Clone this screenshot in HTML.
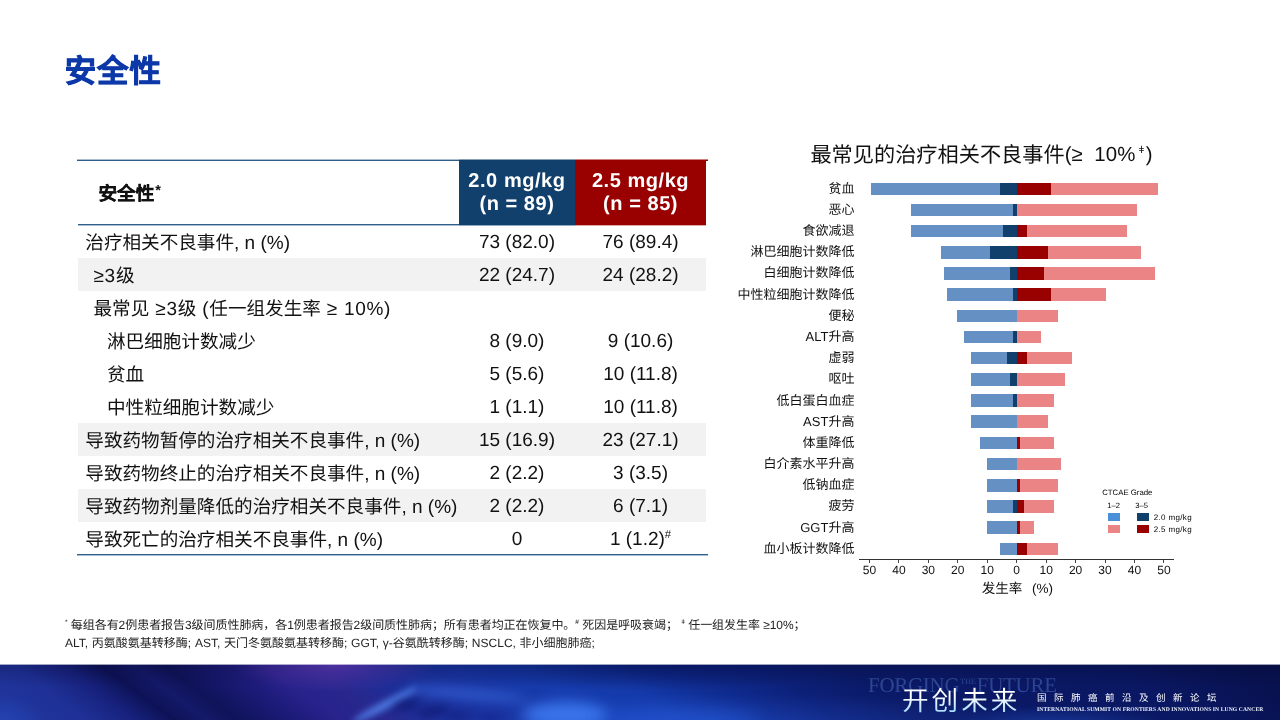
<!DOCTYPE html>
<html lang="zh-CN">
<head>
<meta charset="utf-8">
<title>安全性</title>
<style>
html,body{margin:0;padding:0}
body{width:1280px;height:720px;position:relative;overflow:hidden;background:#fff;font-family:"Liberation Sans",sans-serif;color:#111;text-rendering:geometricPrecision;opacity:.999}
.abs{position:absolute;white-space:nowrap}
h1{position:absolute;left:64.8px;top:50.4px;margin:0;letter-spacing:.9px;font-size:31.4px;line-height:44px;font-weight:bold;-webkit-text-stroke:.8px #0c38a8;color:#0c38a8;white-space:nowrap}

/* table */
table.t{position:absolute;left:78.3px;top:160px;width:628px;border-collapse:collapse;table-layout:fixed;font-size:18.6px;color:#111}
table.t td,table.t th{padding:0;height:33px;line-height:33px;white-space:nowrap;overflow:visible;font-weight:normal;border:0}
table.t col.c1{width:380.8px}
table.t col.c2{width:115.7px}
table.t col.c3{width:131.5px}
table.t thead th{height:65px;box-sizing:border-box}
table.t thead th.h1{text-align:left;padding-left:20.2px;font-weight:bold;padding-top:1.5px;-webkit-text-stroke:.3px #111}
table.t thead th.h2,table.t thead th.h3{color:#fff;font-weight:bold;font-size:20px;letter-spacing:.55px;line-height:22.8px;padding-top:1px}
table.t thead th.h2{background:#12406c}
table.t thead th.h3{background:#990000}
table.t tbody td{text-align:center;font-size:19px;height:31px;line-height:31px;padding-top:2px}
table.t tbody td:first-child{text-align:left;padding-left:7px;font-size:18.6px}
table.t tbody tr.g td{background:#f2f2f2}
table.t tbody td.i1{padding-left:15.2px}
table.t tbody td.i2{padding-left:28.7px}
.l{font-size:19px;line-height:1}
.l2{font-size:19px;line-height:1;letter-spacing:.7px}
.ln{position:absolute;height:2px}
sup{font-size:60%;line-height:0;vertical-align:super}
table.t thead th.h1 sup{font-size:78%;margin-left:1px;vertical-align:4.8px;-webkit-text-stroke:0}

/* chart */
.ct{left:810.4px;top:142.2px;font-size:21.2px;line-height:28px;color:#111}
.ct .l3{word-spacing:5.5px;font-size:20.4px;position:relative;top:-1.5px;letter-spacing:.15px}
.ct sup{font-size:50%;margin:0 1px 0 3px}
.lab{position:absolute;right:425.6px;width:200px;text-align:right;font-size:13px;line-height:16px;white-space:nowrap;color:#111}
.bar{position:absolute;height:12.5px}
.lb{background:#6590c3}.db{background:#12406c}.dr{background:#990000}.lr{background:#eb8585}
.axis{position:absolute;left:859px;top:559px;width:315px;height:1px;background:#333}
.tm{position:absolute;top:560px;width:1px;height:3px;background:#444}
.tk{position:absolute;top:562.7px;width:30px;margin-left:-15px;text-align:center;font-size:12px;line-height:14px;color:#111}
.axt{left:967.3px;width:100px;text-align:center;top:579.4px;font-size:13.5px;line-height:20px;word-spacing:6px}
.lg{font-size:7.8px;line-height:12px;color:#000}
.sw{position:absolute;width:11.9px;height:7.8px}

/* footnotes */
.fn{left:65px;font-size:12px;line-height:16px;color:#222}
.fn sup{font-size:55%}

/* footer band */
.band{position:absolute;left:0;top:664px;width:1280px;height:56px;overflow:hidden;background:
 radial-gradient(ellipse 130px 36px at 335px 0px,rgba(86,50,168,.85),transparent 78%),
 radial-gradient(ellipse 150px 28px at 1060px 62px,rgba(36,84,200,.5),transparent 75%),
 radial-gradient(ellipse 260px 40px at 650px -4px,rgba(6,14,84,.7),transparent 80%),
 radial-gradient(ellipse 60px 40px at 0px 60px,rgba(44,96,215,.4),transparent 75%),
 radial-gradient(ellipse 460px 44px at 730px 64px,rgba(50,100,230,.3),transparent 80%),
 linear-gradient(to bottom,rgba(0,0,20,.2) 0,rgba(0,0,0,0) 40%),
 linear-gradient(216.7deg,#081250 22px,#0a1762 100px,#0b1a68 262px,#0c2078 309px,#0f2c90 357px,#143aaa 405px,#163cae 453px,#1734a2 489px,#1c2e98 548px,#27288e 578px,#28228c 608px,#1d1b7a 632px,#15176a 650px,#0f1359 668px,#141969 686px,#0d1257 706px,#17217c 728px,#1e3096 757px,#20349c 787px)}
.band i{position:absolute;display:block;border-radius:50%;filter:blur(4px)}
.b1{left:868px;top:669.5px;font-family:"Liberation Serif",serif;font-size:21px;line-height:24px;letter-spacing:-.3px;color:rgba(90,130,215,.42)}
.b1 small{font-size:8px;vertical-align:8px;letter-spacing:0;margin:0 1px}
.b2{left:902px;top:681.8px;font-family:"Liberation Serif",serif;font-size:26.6px;font-weight:300;line-height:38px;letter-spacing:3px;color:#e4f3ff;background:linear-gradient(#ffffff 38%,#a9dcff 78%);-webkit-background-clip:text;background-clip:text;-webkit-text-fill-color:transparent}
.b3{left:1037px;top:691px;font-size:9.5px;line-height:16px;letter-spacing:7.5px;color:#fff}
.b4{left:1037px;top:706px;font-family:"Liberation Serif",serif;font-size:5.6px;line-height:9px;font-weight:bold;color:#f0f4ff;letter-spacing:.1px}
</style>
</head>
<body>
<h1>安全性</h1>

<table class="t">
<colgroup><col class="c1"><col class="c2"><col class="c3"></colgroup>
<thead>
<tr><th class="h1">安全性<sup>*</sup></th><th class="h2">2.0 mg/kg<br>(n = 89)</th><th class="h3">2.5 mg/kg<br>(n = 85)</th></tr>
</thead>
<tbody>
<tr><td>治疗相关不良事件<span class="l">, n (%)</span></td><td>73 (82.0)</td><td>76 (89.4)</td></tr>
<tr class="g"><td class="i1"><span class="l2">≥3</span>级</td><td>22 (24.7)</td><td>24 (28.2)</td></tr>
<tr><td class="i1">最常见<span class="l2"> ≥3</span>级<span class="l2"> (</span>任一组发生率<span class="l2"> ≥ 10%)</span></td><td></td><td></td></tr>
<tr><td class="i2">淋巴细胞计数减少</td><td>8 (9.0)</td><td>9 (10.6)</td></tr>
<tr><td class="i2">贫血</td><td>5 (5.6)</td><td>10 (11.8)</td></tr>
<tr><td class="i2">中性粒细胞计数减少</td><td>1 (1.1)</td><td>10 (11.8)</td></tr>
<tr class="g"><td>导致药物暂停的治疗相关不良事件<span class="l">, n (%)</span></td><td>15 (16.9)</td><td>23 (27.1)</td></tr>
<tr><td>导致药物终止的治疗相关不良事件<span class="l">, n (%)</span></td><td>2 (2.2)</td><td>3 (3.5)</td></tr>
<tr class="g"><td>导致药物剂量降低的治疗相关不良事件<span class="l">, n (%)</span></td><td>2 (2.2)</td><td>6 (7.1)</td></tr>
<tr><td>导致死亡的治疗相关不良事件<span class="l">, n (%)</span></td><td>0</td><td>1 (1.2)<sup>#</sup></td></tr>
</tbody>
</table>
<div class="ln" style="left:77px;top:159px;width:382px;background:linear-gradient(#2f5f8a66 50%,#2f5f8a 50%)"></div>
<div class="ln" style="left:459px;top:159px;width:116px;height:1px;background:#12406c80"></div>
<div class="ln" style="left:575px;top:159px;width:132.6px;background:linear-gradient(#99000080 50%,#990000 50%)"></div>
<div class="ln" style="left:78px;top:224px;width:381px;background:linear-gradient(#2f5f8a 50%,#2f5f8a66 50%)"></div>
<div class="ln" style="left:459px;top:224px;width:116px;background:linear-gradient(#12406c 50%,#2f5f8a88 50%)"></div>
<div class="ln" style="left:575px;top:224px;width:131.3px;background:linear-gradient(#990000 50%,#99000055 50%)"></div>
<div class="ln" style="left:77px;top:554px;width:630.6px;background:linear-gradient(#2f5f8a 50%,#2f5f8a66 50%)"></div>

<div class="abs ct">最常见的治疗相关不良事件<span class="l3">(≥ 10%<sup>ǂ</sup>)</span></div>
<!--CHART-->
<div class="lab" style="top:180.75px">贫血</div>
<div class="bar lb" style="top:182.5px;left:871.25px;width:145.45px"></div>
<div class="bar lr" style="top:182.5px;left:1016.7px;width:141.55px"></div>
<div class="bar db" style="top:182.5px;left:1000px;width:16.7px"></div>
<div class="bar dr" style="top:182.5px;left:1016.7px;width:34.55px"></div>
<div class="lab" style="top:201.93px">恶心</div>
<div class="bar lb" style="top:203.68px;left:911px;width:105.7px"></div>
<div class="bar lr" style="top:203.68px;left:1016.7px;width:120.8px"></div>
<div class="bar db" style="top:203.68px;left:1013.25px;width:3.45px"></div>
<div class="lab" style="top:223.11px">食欲减退</div>
<div class="bar lb" style="top:224.86px;left:911px;width:105.7px"></div>
<div class="bar lr" style="top:224.86px;left:1016.7px;width:110.3px"></div>
<div class="bar db" style="top:224.86px;left:1003.25px;width:13.45px"></div>
<div class="bar dr" style="top:224.86px;left:1016.7px;width:10.3px"></div>
<div class="lab" style="top:244.29px">淋巴细胞计数降低</div>
<div class="bar lb" style="top:246.04px;left:940.75px;width:75.95px"></div>
<div class="bar lr" style="top:246.04px;left:1016.7px;width:124.55px"></div>
<div class="bar db" style="top:246.04px;left:990px;width:26.7px"></div>
<div class="bar dr" style="top:246.04px;left:1016.7px;width:31.3px"></div>
<div class="lab" style="top:265.47px">白细胞计数降低</div>
<div class="bar lb" style="top:267.22px;left:944px;width:72.7px"></div>
<div class="bar lr" style="top:267.22px;left:1016.7px;width:138.3px"></div>
<div class="bar db" style="top:267.22px;left:1010px;width:6.7px"></div>
<div class="bar dr" style="top:267.22px;left:1016.7px;width:27.8px"></div>
<div class="lab" style="top:286.65px">中性粒细胞计数降低</div>
<div class="bar lb" style="top:288.4px;left:947px;width:69.7px"></div>
<div class="bar lr" style="top:288.4px;left:1016.7px;width:89.8px"></div>
<div class="bar db" style="top:288.4px;left:1013.25px;width:3.45px"></div>
<div class="bar dr" style="top:288.4px;left:1016.7px;width:34.55px"></div>
<div class="lab" style="top:307.83px">便秘</div>
<div class="bar lb" style="top:309.58px;left:957px;width:59.7px"></div>
<div class="bar lr" style="top:309.58px;left:1016.7px;width:41.3px"></div>
<div class="lab" style="top:329.01px">ALT升高</div>
<div class="bar lb" style="top:330.76px;left:963.75px;width:52.95px"></div>
<div class="bar lr" style="top:330.76px;left:1016.7px;width:24.05px"></div>
<div class="bar db" style="top:330.76px;left:1013.25px;width:3.45px"></div>
<div class="lab" style="top:350.19px">虚弱</div>
<div class="bar lb" style="top:351.94px;left:970.5px;width:46.2px"></div>
<div class="bar lr" style="top:351.94px;left:1016.7px;width:55.3px"></div>
<div class="bar db" style="top:351.94px;left:1006.75px;width:9.95px"></div>
<div class="bar dr" style="top:351.94px;left:1016.7px;width:10.3px"></div>
<div class="lab" style="top:371.37px">呕吐</div>
<div class="bar lb" style="top:373.12px;left:970.5px;width:46.2px"></div>
<div class="bar lr" style="top:373.12px;left:1016.7px;width:48.3px"></div>
<div class="bar db" style="top:373.12px;left:1010px;width:6.7px"></div>
<div class="lab" style="top:392.55px">低白蛋白血症</div>
<div class="bar lb" style="top:394.3px;left:970.5px;width:46.2px"></div>
<div class="bar lr" style="top:394.3px;left:1016.7px;width:37.8px"></div>
<div class="bar db" style="top:394.3px;left:1013.25px;width:3.45px"></div>
<div class="lab" style="top:413.73px">AST升高</div>
<div class="bar lb" style="top:415.48px;left:970.5px;width:46.2px"></div>
<div class="bar lr" style="top:415.48px;left:1016.7px;width:31.05px"></div>
<div class="lab" style="top:434.91px">体重降低</div>
<div class="bar lb" style="top:436.66px;left:980.25px;width:36.45px"></div>
<div class="bar lr" style="top:436.66px;left:1016.7px;width:37.8px"></div>
<div class="bar dr" style="top:436.66px;left:1016.7px;width:3.3px"></div>
<div class="lab" style="top:456.09px">白介素水平升高</div>
<div class="bar lb" style="top:457.84px;left:987px;width:29.7px"></div>
<div class="bar lr" style="top:457.84px;left:1016.7px;width:44.55px"></div>
<div class="lab" style="top:477.27px">低钠血症</div>
<div class="bar lb" style="top:479.02px;left:987px;width:29.7px"></div>
<div class="bar lr" style="top:479.02px;left:1016.7px;width:41.3px"></div>
<div class="bar dr" style="top:479.02px;left:1016.7px;width:3.3px"></div>
<div class="lab" style="top:498.45px">疲劳</div>
<div class="bar lb" style="top:500.2px;left:987px;width:29.7px"></div>
<div class="bar lr" style="top:500.2px;left:1016.7px;width:37.8px"></div>
<div class="bar db" style="top:500.2px;left:1013.25px;width:3.45px"></div>
<div class="bar dr" style="top:500.2px;left:1016.7px;width:7.05px"></div>
<div class="lab" style="top:519.63px">GGT升高</div>
<div class="bar lb" style="top:521.38px;left:987px;width:29.7px"></div>
<div class="bar lr" style="top:521.38px;left:1016.7px;width:17.05px"></div>
<div class="bar dr" style="top:521.38px;left:1016.7px;width:3.3px"></div>
<div class="lab" style="top:540.81px">血小板计数降低</div>
<div class="bar lb" style="top:542.56px;left:1000px;width:16.7px"></div>
<div class="bar lr" style="top:542.56px;left:1016.7px;width:41px"></div>
<div class="bar dr" style="top:542.56px;left:1016.7px;width:10.3px"></div>
<div class="axis"></div>
<div class="tm" style="left:868.95px"></div>
<div class="tk" style="left:869.45px">50</div>
<div class="tm" style="left:898.4px"></div>
<div class="tk" style="left:898.9px">40</div>
<div class="tm" style="left:927.85px"></div>
<div class="tk" style="left:928.35px">30</div>
<div class="tm" style="left:957.3px"></div>
<div class="tk" style="left:957.8px">20</div>
<div class="tm" style="left:986.75px"></div>
<div class="tk" style="left:987.25px">10</div>
<div class="tm" style="left:1016.2px"></div>
<div class="tk" style="left:1016.7px">0</div>
<div class="tm" style="left:1045.65px"></div>
<div class="tk" style="left:1046.15px">10</div>
<div class="tm" style="left:1075.1px"></div>
<div class="tk" style="left:1075.6px">20</div>
<div class="tm" style="left:1104.55px"></div>
<div class="tk" style="left:1105.05px">30</div>
<div class="tm" style="left:1134px"></div>
<div class="tk" style="left:1134.5px">40</div>
<div class="tm" style="left:1163.45px"></div>
<div class="tk" style="left:1163.95px">50</div>
<div class="abs axt">发生率 (%)</div>
<div class="abs lg" style="left:1102.2px;top:486.8px">CTCAE Grade</div>
<div class="abs lg" style="left:1107.3px;top:500px;font-size:7.6px">1–2</div>
<div class="abs lg" style="left:1135.2px;top:500px;font-size:7.6px">3–5</div>
<div class="sw" style="left:1108.1px;top:513.3px;background:#4a90d9"></div>
<div class="sw" style="left:1137px;top:513.3px;background:#12406c"></div>
<div class="sw" style="left:1108.1px;top:525.2px;background:#eb8585"></div>
<div class="sw" style="left:1137px;top:525.2px;background:#990000"></div>
<div class="abs lg" style="left:1153.7px;top:511.9px;font-size:8px;letter-spacing:.35px">2.0 mg/kg</div>
<div class="abs lg" style="left:1153.7px;top:523.9px;font-size:8px;letter-spacing:.35px">2.5 mg/kg</div>
<!--/CHART-->

<div class="abs fn" style="top:617.4px;letter-spacing:-.05px"><sup>*</sup> 每组各有2例患者报告3级间质性肺病，各1例患者报告2级间质性肺病；所有患者均正在恢复中。<sup>#</sup> 死因是呼吸衰竭； <sup>ǂ</sup> 任一组发生率 ≥10%；</div>
<div class="abs fn" style="top:635.2px;word-spacing:.4px">ALT, 丙氨酸氨基转移酶; AST, 天门冬氨酸氨基转移酶; GGT, γ-谷氨酰转移酶; NSCLC, 非小细胞肺癌;</div>

<div style="position:absolute;left:0;top:664px;width:1280px;height:1px;background:#fff;opacity:.6;z-index:3"></div>
<div class="band">
<i style="left:348px;top:37px;width:74px;height:8px;background:rgba(84,134,240,.85);transform:rotate(-28deg);filter:blur(3px)"></i>
<i style="left:405px;top:24px;width:125px;height:12px;background:rgba(60,110,230,.6);transform:rotate(5deg);filter:blur(6px)"></i>
<i style="left:392px;top:36px;width:28px;height:9px;background:rgba(8,16,96,.6);transform:rotate(-10deg)"></i>
<i style="left:418px;top:43px;width:30px;height:9px;background:rgba(8,16,96,.6);transform:rotate(-10deg)"></i>
<i style="left:444px;top:48px;width:28px;height:8px;background:rgba(10,20,110,.5)"></i>
<i style="left:476px;top:50px;width:30px;height:8px;background:rgba(10,24,120,.45)"></i>
<i style="left:522px;top:38px;width:86px;height:26px;background:rgba(64,126,246,.85);filter:blur(7px)"></i>
<i style="left:600px;top:46px;width:160px;height:18px;background:rgba(40,96,225,.5);filter:blur(8px)"></i>
</div>
<div class="abs b1">FORGING<small>THE</small>FUTURE</div>
<div class="abs b2">开创未来</div>
<div class="abs b3">国际肺癌前沿及创新论坛</div>
<div class="abs b4">INTERNATIONAL SUMMIT ON FRONTIERS AND INNOVATIONS IN LUNG CANCER</div>
</body>
</html>
